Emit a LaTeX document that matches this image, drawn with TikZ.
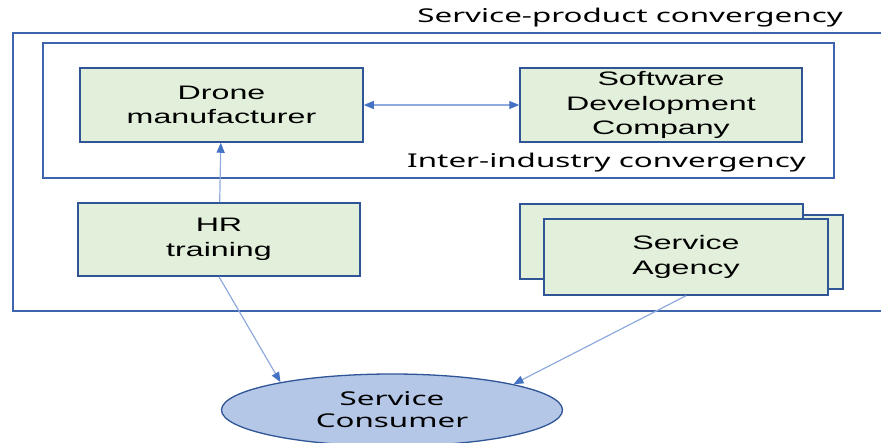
\documentclass[tikz,border=0pt]{standalone}
\usepackage{fontspec}
\setmainfont{Liberation Sans}[FakeStretch=1.65]
\newfontfamily\tagfont{Noto Sans}[FakeStretch=1.65]
\usetikzlibrary{arrows.meta,positioning,shapes.geometric}
\definecolor{boxfill}{HTML}{E2EFDA}
\definecolor{boxline}{HTML}{2F5597}
\definecolor{framecol}{HTML}{3F64AE}
\definecolor{arrline}{HTML}{8FAADC}
\definecolor{arrhead}{HTML}{4472C4}
\definecolor{userfill}{HTML}{B4C7E7}

\begin{document}
\begin{tikzpicture}[x=1pt, y=-1pt,
  actor/.style={draw=boxline, line width=1.5pt, fill=boxfill, minimum width=283pt, minimum height=74pt, align=center, inner sep=2pt, font=\fontsize{19.5}{24.5}\selectfont},
  frame/.style={draw=framecol, line width=1.3pt},
  tag/.style={anchor=east, inner sep=0pt, font=\tagfont\fontsize{19}{22}\selectfont},
  client/.style={ellipse, draw=boxline, line width=1.3pt, fill=userfill, minimum width=341pt, minimum height=72pt, inner sep=0pt, align=center, font=\tagfont\fontsize{19}{22}\selectfont},
  arr/.style={-{Triangle[length=10pt, width=8pt, color=arrhead]}, arrline, line width=1.2pt},
  darr/.style={{Triangle[length=10pt, width=8pt, color=arrhead]}-{Triangle[length=10pt, width=8pt, color=arrhead]}, arrline, line width=1.2pt}
]
  \useasboundingbox (0,0) rectangle (881,442);

  % service-product frame, open to the right
  \draw[frame] (881,33) -- (13,33) -- (13,311) -- (881,311);
  \node[tag] (spc) at (843,18) {Service-product convergency};

  % inter-industry frame
  \node[frame, minimum width=791pt, minimum height=135pt] (inter) at (438.5,110.5) {};
  \node[tag] (iic) at (806,163) {Inter-industry convergency};

  \node[actor] (drone) at (221.5,105) {Drone\\manufacturer};
  \node[actor, minimum width=282pt] (soft) at (661,105) {Software\\Development\\Company};
  \node[actor, minimum width=282pt, minimum height=73pt] (hr) at (219,239.5) {HR\\training};

  % stacked agencies
  \node[actor, minimum height=74pt] (agency3) at (701.5,252) {};
  \node[actor, minimum height=75pt] (agency2) at (661.5,241.5) {};
  \node[actor, minimum width=284pt, minimum height=76pt] (agency) at (686,257) {Service\\Agency};

  \node[client] (consumer) at (392,410) {Service\\Consumer};

  \draw[darr] (drone) -- (soft);
  \draw[arr] (hr) -- (drone);
  \draw[arr] (hr.south) -- (consumer.166);
  \draw[arr] (agency.south) -- (consumer.12);
\end{tikzpicture}
\end{document}
